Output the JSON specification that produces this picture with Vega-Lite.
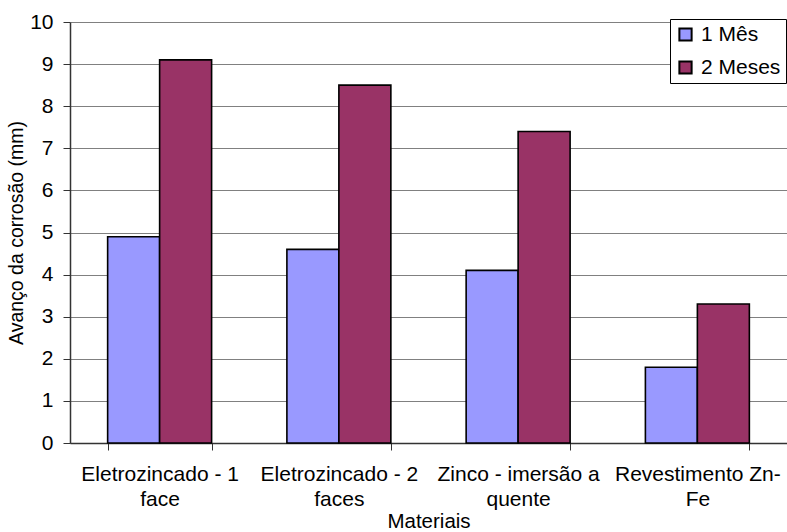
{
  "$schema": "https://vega.github.io/schema/vega-lite/v6.json",
  "width": 717,
  "height": 421,
  "autosize": "none",
  "padding": {"left": 70, "top": 22, "right": 0, "bottom": 89},
  "background": "white",
  "config": {
    "font": "Liberation Sans",
    "view": {"stroke": null},
    "axis": {
      "labelFont": "Liberation Sans",
      "titleFont": "Liberation Sans",
      "labelColor": "black",
      "titleColor": "black",
      "titleFontWeight": "normal",
      "domainColor": "#333333",
      "tickColor": "#333333",
      "gridColor": "#808080"
    }
  },
  "data": {
    "values": [
      {"material": "Eletrozincado - 1\nface", "periodo": "1 Mês", "avanco": 4.9},
      {"material": "Eletrozincado - 1\nface", "periodo": "2 Meses", "avanco": 9.1},
      {"material": "Eletrozincado - 2\nfaces", "periodo": "1 Mês", "avanco": 4.6},
      {"material": "Eletrozincado - 2\nfaces", "periodo": "2 Meses", "avanco": 8.5},
      {"material": "Zinco - imersão a\nquente", "periodo": "1 Mês", "avanco": 4.1},
      {"material": "Zinco - imersão a\nquente", "periodo": "2 Meses", "avanco": 7.4},
      {"material": "Revestimento Zn-\nFe", "periodo": "1 Mês", "avanco": 1.8},
      {"material": "Revestimento Zn-\nFe", "periodo": "2 Meses", "avanco": 3.3}
    ]
  },
  "mark": {"type": "bar", "stroke": "black", "strokeWidth": 1.6},
  "encoding": {
    "x": {
      "field": "material",
      "type": "nominal",
      "sort": null,
      "scale": {"paddingInner": 0.42, "paddingOuter": 0.21},
      "axis": {
        "title": "Materiais",
        "titleFontSize": 20.5,
        "titlePadding": 2,
        "labelAngle": 0,
        "labelFontSize": 21,
        "labelPadding": 13,
        "labelLineHeight": 25,
        "labelExpr": "split(datum.label, '\\n')",
        "labelOverlap": false,
        "labelLimit": 300,
        "tickBand": "extent",
        "tickSize": 7,
        "domainWidth": 1.5
      }
    },
    "xOffset": {"field": "periodo", "type": "nominal", "sort": ["1 Mês", "2 Meses"]},
    "y": {
      "field": "avanco",
      "type": "quantitative",
      "scale": {"domain": [0, 10], "nice": false},
      "axis": {
        "title": "Avanço da corrosão (mm)",
        "titleFontSize": 19.5,
        "titlePadding": 3,
        "labelFontSize": 21,
        "labelPadding": 10,
        "labelOverlap": false,
        "values": [0, 1, 2, 3, 4, 5, 6, 7, 8, 9, 10],
        "tickSize": 7,
        "grid": true,
        "gridWidth": 1.2,
        "domainWidth": 1.5
      }
    },
    "color": {
      "field": "periodo",
      "type": "nominal",
      "sort": ["1 Mês", "2 Meses"],
      "scale": {"domain": ["1 Mês", "2 Meses"], "range": ["#9999FF", "#993366"]},
      "legend": {
        "title": null,
        "orient": "none",
        "legendX": 600,
        "legendY": -3,
        "direction": "vertical",
        "symbolType": "square",
        "symbolSize": 150,
        "symbolStrokeColor": "black",
        "symbolStrokeWidth": 2,
        "symbolOpacity": 1,
        "labelFont": "Liberation Sans",
        "labelFontSize": 21,
        "labelColor": "black",
        "labelOffset": 5,
        "rowPadding": 11,
        "padding": 5,
        "strokeColor": "black",
        "fillColor": "white",
        "labelLimit": 200
      }
    }
  }
}
